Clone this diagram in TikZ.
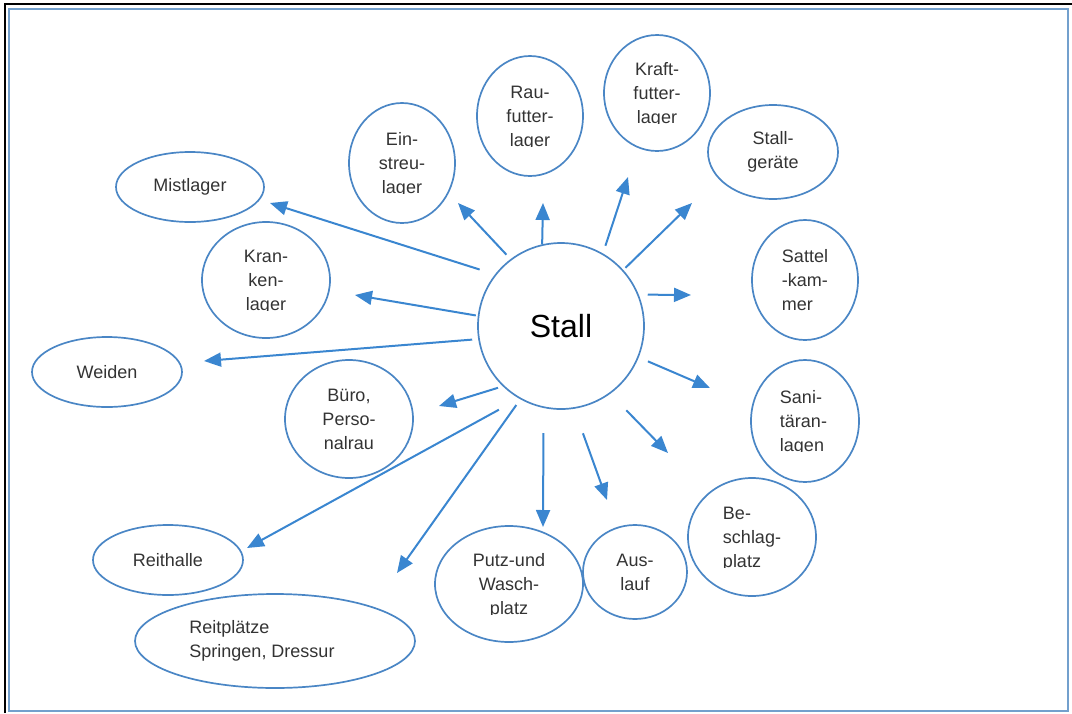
\documentclass[tikz,border=0pt]{standalone}
\usepackage{fontspec}
\setmainfont{Liberation Sans}
\usepackage{trimclip}
\usetikzlibrary{shapes.geometric, arrows.meta}

\definecolor{ringblue}{RGB}{74,134,197}
\definecolor{arrowblue}{RGB}{58,134,208}
\definecolor{framegrey}{RGB}{115,160,205}

% last line of a label loses its descenders, as in the original
\newcommand{\cutline}[1]{\clipbox{0pt {\depth} 0pt 0pt}{#1}}

\begin{document}
\begin{tikzpicture}[x=1pt, y=-1pt,
        room/.style={ellipse, draw=ringblue, line width=1.7pt, inner sep=0pt, align=center,
            text=black!80, font=\fontsize{18}{24}\selectfont},
        link/.style={draw=arrowblue, line width=2pt, -{Triangle[length=17pt, width=14pt]}}]
        \useasboundingbox (0,0) rectangle (1072,713);
        \draw [line width=1.5pt] (5,713) -- (5,4) -- (1072,4);
        \draw [framegrey, line width=2pt] (9,9) rectangle (1068,711);

        \node [room, circle, minimum size=166pt, text=black, font=\fontsize{32}{38}\selectfont] (stall) at (561,326) {Stall};

        \node [room, minimum width=148pt, minimum height=70pt] (mist) at (190,187) {Mistlager};
        \node [room, minimum width=128pt, minimum height=116pt] (kranken) at (266,280) {Kran-\\ken-\\\cutline{lager}};
        \node [room, minimum width=106pt, minimum height=120pt] (einstreu) at (402,163) {Ein-\\streu-\\\cutline{lager}};
        \node [room, minimum width=106pt, minimum height=120pt] (rau) at (530,116) {Rau-\\futter-\\\cutline{lager}};
        \node [room, minimum width=106pt, minimum height=116pt] (kraft) at (657,93) {Kraft-\\futter-\\\cutline{lager}};
        \node [room, minimum width=130pt, minimum height=94pt] (geraete) at (773,152) {Stall-\\geräte};
        \node [room, align=left, minimum width=106pt, minimum height=120pt] (sattel) at (805,280) {Sattel\\-kam-\\mer};
        \node [room, align=left, minimum width=108pt, minimum height=122pt] (sanitaer) at (805,421) {Sani-\\täran-\\\cutline{lagen}\hspace*{6pt}};
        \node [room, align=left, minimum width=128pt, minimum height=118pt] (beschlag) at (752,537) {Be-\\schlag-\\\cutline{platz}};
        \node [room, minimum width=104pt, minimum height=94pt] (auslauf) at (635,572) {Aus-\\lauf};
        \node [room, minimum width=148pt, minimum height=116pt] (putz) at (509,584) {Putz-und\\Wasch-\\\cutline{platz}};
        \node [room, align=left, minimum width=280pt, minimum height=94pt] (reitplatz) at (275,641) {Reitplätze\\Springen, Dressur\hspace*{26pt}};
        \node [room, minimum width=150pt, minimum height=70pt] (reithalle) at (168,560) {Reithalle};
        \node [room, minimum width=128pt, minimum height=118pt] (buero) at (349,419) {Büro,\\Perso-\\nalrau};
        \node [room, minimum width=150pt, minimum height=70pt] (weiden) at (107,372) {Weiden};

        % arrow tips stop short of the rooms
        \coordinate (tMist) at (270,203);
        \coordinate (tKranken) at (355,295);
        \coordinate (tWeiden) at (204,361);
        \coordinate (tBuero) at (439,406);
        \coordinate (tReithalle) at (247,548);
        \coordinate (tReitplatz) at (397,573);
        \coordinate (tPutz) at (543,527);
        \coordinate (tAuslauf) at (607,500);
        \coordinate (tBeschlag) at (668,453);
        \coordinate (tSanitaer) at (710,388);
        \coordinate (tSattel) at (691,295);
        \coordinate (tGeraete) at (692,203);
        \coordinate (tKraft) at (628,177);
        \coordinate (tRau) at (543,203);
        \coordinate (tEinstreu) at (458,203);

        \draw (stall.142) edge[link, shorten <=16pt] (tMist);
        \draw (stall.173) edge[link, shorten <=2pt] (tKranken);
        \draw (stall.189) edge[link, shorten <=6pt] (tWeiden);
        \draw (stall.226) edge[link, shorten <=5pt] (tBuero);
        \draw (stall.240) edge[link, shorten <=23pt] (tReithalle);
        \draw (stall.241) edge[link, shorten <=7pt] (tReitplatz);
        \draw (stall.258) edge[link, shorten <=25pt] (tPutz);
        \draw (stall.279) edge[link, shorten <=26pt] (tAuslauf);
        \draw (stall.306) edge[link, shorten <=23pt] (tBeschlag);
        \draw (stall.338) edge[link, shorten <=10pt] (tSanitaer);
        \draw (stall.22) edge[link, shorten <=9pt] (tSattel);
        \draw (stall.42) edge[link, shorten <=3pt] (tGeraete);
        \draw (stall.60) edge[link, shorten <=8pt] (tKraft);
        \draw (stall.103) edge[link] (tRau);
        \draw (stall.127) edge[link, shorten <=6pt] (tEinstreu);
    \end{tikzpicture}
\end{document}
